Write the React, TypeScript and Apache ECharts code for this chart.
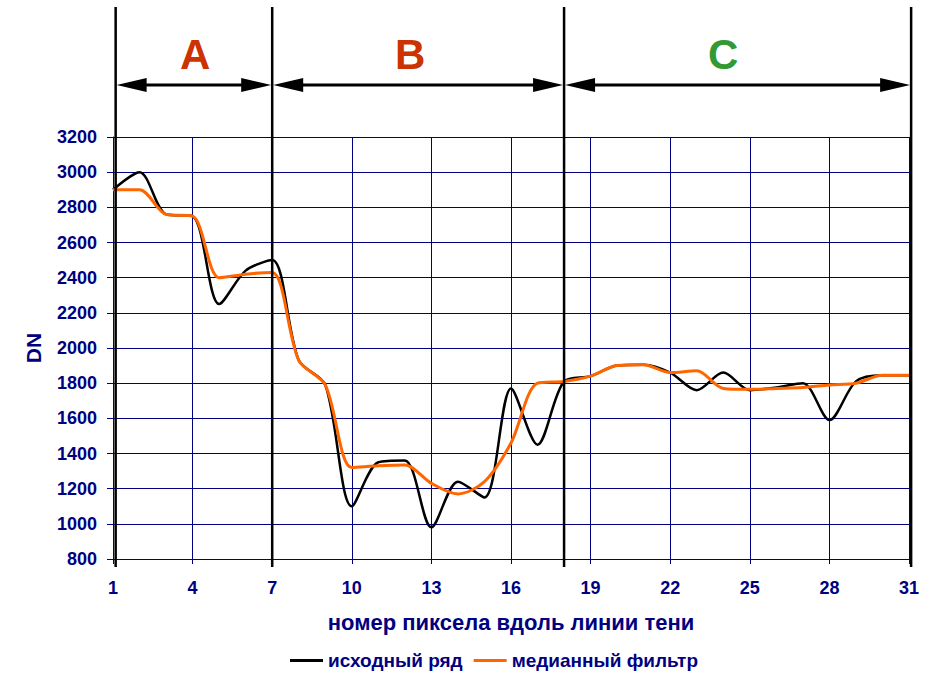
import React, { useEffect, useRef } from 'react';
import * as echarts from 'echarts';

const categories = ['1', '2', '3', '4', '5', '6', '7', '8', '9', '10', '11', '12', '13', '14', '15', '16',
  '17', '18', '19', '20', '21', '22', '23', '24', '25', '26', '27', '28', '29', '30', '31'];

const originalSeries = [2900, 3000, 2760, 2750, 2250, 2440, 2500, 1930, 1790, 1100, 1350, 1360, 980, 1240, 1150, 1770,
  1450, 1810, 1840, 1900, 1905, 1860, 1760, 1860, 1760, 1775, 1800, 1590, 1810, 1845, 1845];

const medianSeries = [2900, 2900, 2760, 2750, 2400, 2420, 2430, 1930, 1790, 1320, 1330, 1335, 1230, 1170, 1240, 1460,
  1800, 1810, 1840, 1900, 1905, 1860, 1870, 1770, 1765, 1770, 1775, 1790, 1800, 1845, 1845];

const seriesNames = ['исходный ряд', 'медианный фильтр'];
const xAxisTitle = 'номер пиксела вдоль линии тени';
const yAxisTitle = 'DN';

// zone boundaries (in pixel-number units) and zone labels
const zoneBoundaries = [1.1, 7, 18, 31.08];
const zoneLabels = ['A', 'B', 'C'];
const zoneLabelPos = [4.1, 12.2, 24.0];
const zoneColors = ['#cc3300', '#cc3300', '#339933'];

export default function App() {
  const ref = useRef<HTMLDivElement>(null);

  useEffect(() => {
    const chart = echarts.init(ref.current!, null, { renderer: 'svg' });
    const font = "'Liberation Sans', Arial, sans-serif";
    const navy = '#000080';

    chart.setOption({
      animation: false,
      backgroundColor: '#ffffff',
      grid: { left: 113, right: 16, top: 137, bottom: 115, containLabel: false },
      legend: {
        data: seriesNames,
        left: 285,
        top: 646,
        icon: 'rect',
        itemWidth: 33,
        itemHeight: 3,
        itemGap: 11,
        textStyle: { color: navy, fontWeight: 'bold', fontSize: 19, fontFamily: font },
      },
      xAxis: {
        type: 'category',
        data: categories,
        boundaryGap: false,
        name: xAxisTitle,
        nameLocation: 'middle',
        nameGap: 52,
        nameTextStyle: { color: navy, fontWeight: 'bold', fontSize: 22, fontFamily: font },
        axisLine: { lineStyle: { color: navy, width: 1 } },
        axisTick: { show: true, interval: 2, length: 5, lineStyle: { color: navy } },
        axisLabel: { interval: 2, margin: 20, color: navy, fontWeight: 'bold', fontSize: 18, fontFamily: font },
        splitLine: { show: true, interval: 2, lineStyle: { color: navy, width: 1 } },
      },
      yAxis: {
        type: 'value',
        min: 800,
        max: 3200,
        interval: 200,
        name: yAxisTitle,
        nameLocation: 'middle',
        nameRotate: 90,
        nameGap: 69,
        nameTextStyle: { color: navy, fontWeight: 'bold', fontSize: 21, fontFamily: font },
        axisLine: { show: true, lineStyle: { color: navy, width: 1 } },
        axisTick: { show: true, length: 6, lineStyle: { color: navy } },
        axisLabel: {
          margin: 16,
          color: navy,
          fontWeight: 'bold',
          fontSize: 18,
          fontFamily: font,
          formatter: (v: number) => String(v),
        },
        splitLine: { show: true, lineStyle: { color: navy, width: 1 } },
      },
      series: [
        {
          name: seriesNames[0],
          type: 'line',
          data: originalSeries,
          smooth: 0.3,
          symbol: 'none',
          itemStyle: { color: '#000000' },
          lineStyle: { color: '#000000', width: 2.5 },
          z: 3,
        },
        {
          name: seriesNames[1],
          type: 'line',
          data: medianSeries,
          smooth: 0.3,
          symbol: 'none',
          itemStyle: { color: '#ff6600' },
          lineStyle: { color: '#ff6600', width: 3 },
          z: 4,
        },
      ],
    });

    const p0 = chart.convertToPixel({ xAxisIndex: 0 }, 0) as number;
    const p30 = chart.convertToPixel({ xAxisIndex: 0 }, 30) as number;
    const pos = (v: number) => p0 + ((v - 1) * (p30 - p0)) / 30;

    const lineTop = 7;
    const lineBottom = 567;
    const arrowY = 85;
    const headLen = 31;
    const headHalf = 7;

    const graphics: any[] = [];
    zoneBoundaries.forEach((b) => {
      const x = pos(b);
      graphics.push({
        type: 'line',
        z: 100,
        shape: { x1: x, y1: lineTop, x2: x, y2: lineBottom },
        style: { stroke: '#000000', lineWidth: 2.5 },
      });
    });
    for (let i = 0; i < zoneBoundaries.length - 1; i++) {
      const xl = pos(zoneBoundaries[i]);
      const xr = pos(zoneBoundaries[i + 1]);
      graphics.push({
        type: 'line',
        z: 100,
        shape: { x1: xl + 10, y1: arrowY, x2: xr - 10, y2: arrowY },
        style: { stroke: '#000000', lineWidth: 3 },
      });
      graphics.push({
        type: 'polygon',
        z: 100,
        shape: { points: [[xl + 1, arrowY], [xl + headLen, arrowY - headHalf], [xl + headLen, arrowY + headHalf]] },
        style: { fill: '#000000' },
      });
      graphics.push({
        type: 'polygon',
        z: 100,
        shape: { points: [[xr - 1, arrowY], [xr - headLen, arrowY - headHalf], [xr - headLen, arrowY + headHalf]] },
        style: { fill: '#000000' },
      });
      graphics.push({
        type: 'text',
        z: 100,
        x: pos(zoneLabelPos[i]),
        y: 54,
        style: {
          text: zoneLabels[i],
          fill: zoneColors[i],
          font: `bold 42px ${font}`,
          align: 'center',
          verticalAlign: 'middle',
        },
      });
    }

    chart.setOption({ graphic: graphics });

    return () => chart.dispose();
  }, []);

  return <div ref={ref} style={{ position: 'absolute', left: 0, top: 0, width: 925, height: 674 }} />;
}
